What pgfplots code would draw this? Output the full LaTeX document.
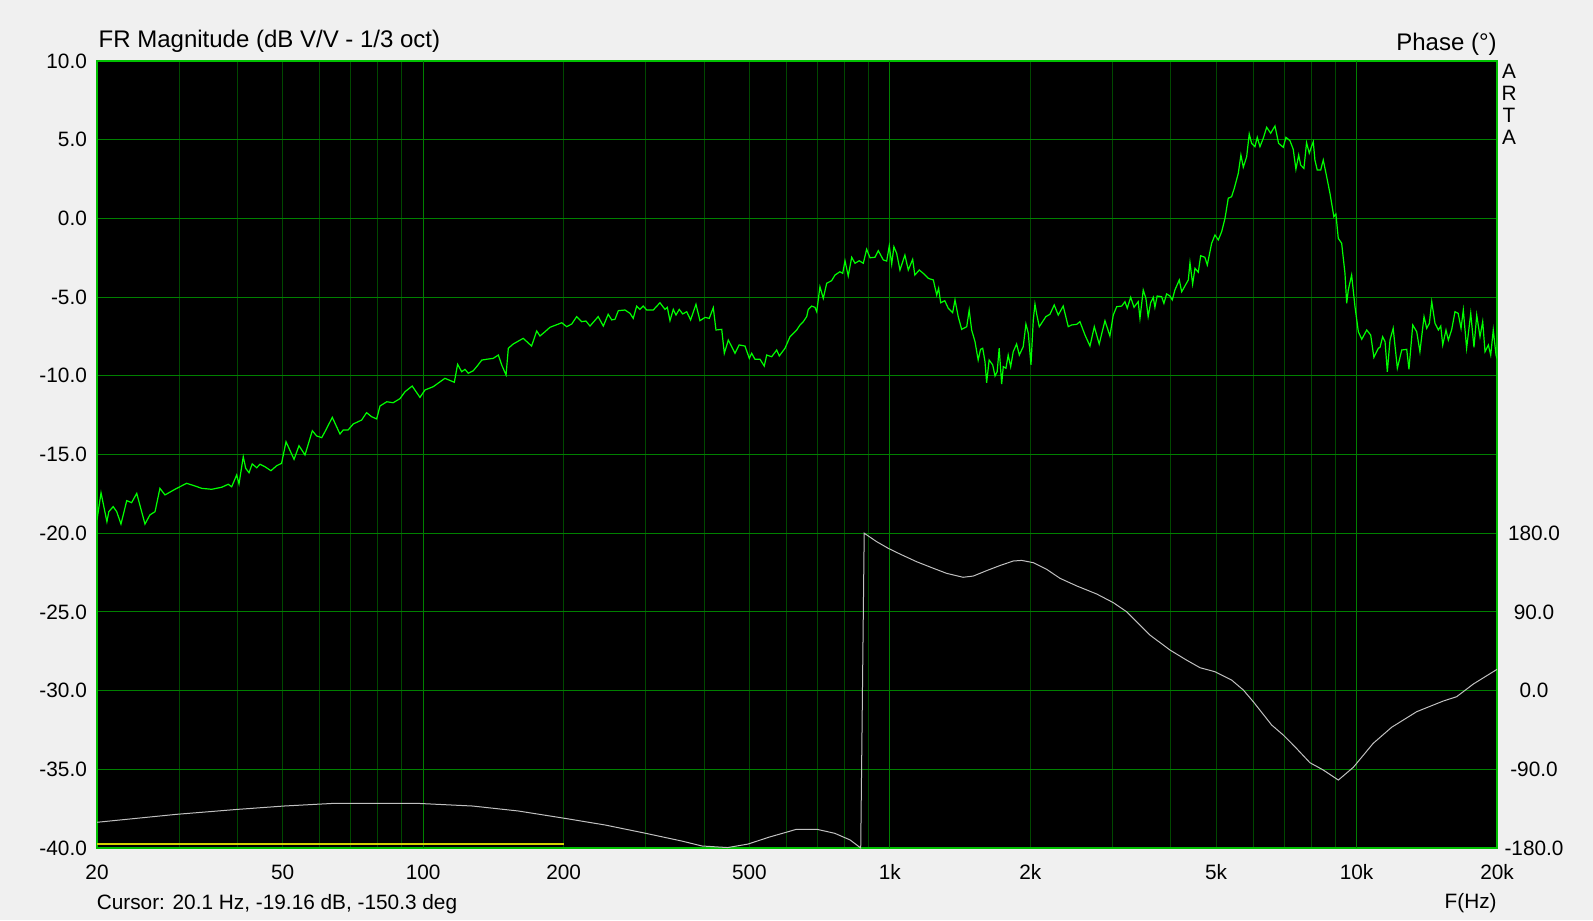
\documentclass[border=0pt]{standalone}
\usepackage{pgfplots}
\pgfplotsset{compat=1.18}
\usepackage{fontspec}
\setmainfont{Liberation Sans}
\definecolor{bgcol}{RGB}{240,240,240}
\definecolor{gridbright}{RGB}{0,128,0}
\definecolor{griddark}{RGB}{0,72,0}
\definecolor{bordercol}{RGB}{0,192,0}
\definecolor{curvecol}{RGB}{0,255,0}
\definecolor{phasecol}{RGB}{192,192,192}
\definecolor{cursorcol}{RGB}{210,210,0}
\newcommand{\lbl}{\fontsize{10.4}{12.5}\selectfont}
\newcommand{\ttl}{\fontsize{12}{14}\selectfont}
\begin{document}
\begin{tikzpicture}
\fill[bgcol] (-48.5pt,-36pt) rectangle (748pt,424pt);
\useasboundingbox (-48.5pt,-36pt) rectangle (748pt,424pt);
\begin{axis}[
  at={(0pt,0pt)}, anchor=south west,
  scale only axis, width=700pt, height=393.5pt,
  xmode=log, xmin=20, xmax=20000, ymin=-40, ymax=10,
  axis background/.style={fill=black},
  axis line style={draw=bordercol, line width=0.6pt},
  xtick={20,50,100,200,500,1000,2000,5000,10000,20000},
  xticklabels={20,50,100,200,500,1k,2k,5k,10k,20k},
  minor xtick={30,40,50,60,70,80,90,200,300,400,500,600,700,800,900,2000,3000,4000,5000,6000,7000,8000,9000},
  extra x ticks={100,1000,10000},
  extra x tick labels={},
  extra x tick style={grid=major},
  ytick={-40,-35,...,10},
  yticklabels={-40.0,-35.0,-30.0,-25.0,-20.0,-15.0,-10.0,-5.0,0.0,5.0,10.0},
  xmajorgrids=false, ymajorgrids=true, xminorgrids=true,
  major grid style={draw=gridbright, line width=0.5pt},
  minor grid style={draw=griddark, line width=0.5pt},
  major tick length=0pt, minor tick length=0pt,
  tick style={draw=none},
  ticklabel style={font=\lbl, text=black, inner sep=0pt},
  xticklabel style={anchor=base, yshift=-15.5pt},
  yticklabel style={anchor=east, xshift=-4.85pt},
]
\addplot[cursorcol, line width=1.1pt] coordinates {(20,-39.77) (200,-39.77)};
\addplot[curvecol, line width=0.6pt] table {
f db
20 -19.16
20.4 -17.43
21.0 -19.27
21.2 -18.63
21.66 -18.31
22.04 -18.63
22.51 -19.42
23.16 -17.93
23.72 -18.06
24.33 -17.47
25.34 -19.42
25.96 -18.84
26.63 -18.63
27.28 -17.15
27.97 -17.57
29.38 -17.21
31.12 -16.83
32.43 -17.0
33.53 -17.15
35.22 -17.21
37.0 -17.08
38.23 -16.89
38.87 -17.05
39.85 -16.30
40.30 -16.87
41.15 -15.14
41.66 -15.88
42.34 -16.16
43.01 -15.60
43.98 -15.84
44.69 -15.62
45.82 -15.78
47.17 -16.03
48.54 -15.71
49.72 -15.56
50.82 -14.19
52.87 -15.31
54.18 -14.44
55.81 -15.03
57.86 -13.49
59.11 -13.82
60.61 -13.93
61.59 -13.55
63.86 -12.64
66.33 -13.70
67.41 -13.44
69.05 -13.44
70.82 -13.06
73.82 -12.81
75.62 -12.34
77.55 -12.60
79.50 -12.74
80.80 -11.92
83.53 -11.65
86.24 -11.71
89.17 -11.45
91.42 -11.01
94.71 -10.65
98.40 -11.37
100.9 -10.90
105.1 -10.69
111.3 -10.16
116.6 -10.41
118.5 -9.27
120.9 -9.74
122.9 -9.59
124.9 -9.84
128.0 -9.68
131.1 -9.31
133.5 -9.0
136.7 -8.95
141.3 -8.89
144.9 -8.68
147.3 -9.31
150.5 -9.95
152.2 -8.25
155.9 -7.98
163.8 -7.62
170.7 -8.11
175.1 -7.15
177.9 -7.47
182.4 -7.20
186.9 -6.92
198.1 -6.63
203.0 -6.88
208.1 -6.71
213.2 -6.24
218.6 -6.56
223.2 -6.52
227.7 -6.84
237.1 -6.24
243.2 -6.84
249.1 -6.09
253.5 -6.45
257.6 -6.41
261.9 -5.86
270.6 -5.82
277.4 -6.03
281.9 -6.35
286.7 -5.57
291.4 -5.78
296.1 -5.57
301.3 -5.82
311.1 -5.82
321.6 -5.36
329.7 -5.78
333.5 -5.65
337.9 -6.50
343.5 -5.78
348.1 -6.14
353.7 -5.78
359.8 -6.07
367.0 -5.93
374.1 -6.45
384.2 -5.46
391.8 -6.50
401.6 -6.29
410.2 -6.35
418.4 -5.67
424.0 -7.09
436.2 -7.05
441.8 -8.57
450.6 -7.73
458.2 -8.15
465.7 -8.57
475.4 -8.04
489.2 -8.11
499.8 -8.89
505.7 -8.57
513.9 -8.95
526.9 -8.95
538.0 -9.38
544.6 -8.68
558.1 -8.79
572.1 -8.36
579.5 -8.74
596.0 -8.25
610.9 -7.52
631.5 -7.09
641.8 -6.77
652.3 -6.56
663.4 -6.24
668.6 -5.78
679.7 -5.57
691.1 -5.65
697.0 -5.93
708.2 -4.34
720.0 -5.08
732.2 -4.12
750.1 -3.96
762.8 -3.60
781.5 -3.39
792.4 -3.49
801.4 -2.69
814.3 -3.66
828.3 -2.47
841.9 -2.85
859.5 -2.69
877.1 -2.85
891.7 -1.96
906.6 -2.50
929.1 -2.47
944.5 -2.05
968.0 -2.64
984.4 -2.71
997.0 -1.75
1009 -2.90
1020 -1.80
1034 -2.22
1051 -3.28
1077 -2.33
1095 -3.28
1119 -2.60
1131 -3.60
1156 -3.28
1179 -3.49
1209 -3.81
1239 -3.91
1260 -4.87
1272 -4.44
1285 -5.36
1311 -5.23
1334 -5.71
1363 -5.99
1379 -5.18
1401 -6.24
1425 -7.05
1461 -6.88
1479 -5.82
1497 -7.09
1522 -7.83
1546 -9.0
1564 -8.32
1581 -8.25
1599 -9.10
1612 -10.44
1632 -9.0
1661 -9.31
1680 -10.01
1698 -9.74
1715 -8.25
1736 -10.52
1750 -9.42
1773 -9.52
1793 -8.68
1815 -9.42
1838 -8.47
1869 -7.98
1894 -8.68
1931 -8.15
1957 -6.71
1980 -7.30
2006 -9.31
2029 -6.45
2046 -5.44
2063 -6.07
2090 -6.88
2159 -6.24
2203 -6.09
2250 -5.50
2295 -6.14
2352 -5.57
2411 -6.88
2452 -6.77
2514 -6.73
2554 -6.56
2619 -7.41
2684 -8.11
2742 -6.88
2809 -7.98
2890 -6.50
2961 -7.47
3011 -6.14
3062 -5.61
3138 -5.57
3190 -5.29
3226 -5.71
3281 -5.01
3335 -5.65
3405 -5.29
3435 -6.35
3491 -4.55
3537 -5.08
3577 -6.24
3621 -5.36
3668 -5.01
3698 -5.65
3739 -4.93
3823 -4.97
3866 -5.40
3918 -4.80
3983 -4.93
4028 -5.18
4081 -4.55
4170 -3.91
4220 -4.66
4360 -3.91
4396 -2.81
4454 -4.17
4506 -3.17
4580 -3.42
4634 -2.37
4731 -2.47
4788 -2.96
4892 -1.58
4973 -1.05
5055 -1.37
5139 -0.85
5225 0.00
5310 1.28
5398 1.38
5470 1.91
5579 2.86
5652 4.03
5719 3.25
5815 3.92
5889 5.36
5960 4.77
6058 4.56
6127 5.15
6209 4.56
6312 5.09
6418 5.79
6546 5.41
6686 5.87
6807 4.77
6966 4.52
7058 5.15
7200 4.94
7318 4.39
7415 3.12
7516 4.03
7591 3.39
7714 3.18
7815 4.81
7920 4.14
8014 4.60
8077 4.87
8143 3.71
8238 3.07
8378 3.07
8485 3.71
8629 2.65
8771 1.59
8941 0.11
9031 0.28
9138 -1.27
9291 -1.58
9445 -3.49
9525 -5.40
9600 -4.55
9760 -3.60
9923 -5.61
10089 -7.20
10260 -7.68
10516 -7.09
10722 -7.41
10893 -8.83
11134 -8.25
11227 -8.19
11373 -7.52
11510 -7.83
11640 -9.74
11794 -7.73
11981 -6.98
12229 -9.52
12498 -8.36
12808 -8.32
12951 -9.59
13196 -6.77
13456 -7.20
13671 -8.47
13951 -6.24
14135 -6.98
14321 -6.67
14492 -5.29
14727 -6.67
14972 -7.09
15151 -6.84
15300 -8.04
15547 -7.09
15729 -7.73
15995 -7.05
16253 -5.93
16511 -6.03
16746 -6.98
16935 -5.82
17213 -8.25
17567 -6.03
17850 -8.19
18095 -6.14
18391 -7.52
18634 -6.56
18851 -8.47
19162 -8.04
19387 -8.68
19632 -7.09
19904 -8.68
20000 -8.9
};
\end{axis}
\begin{axis}[
  at={(0pt,0pt)}, anchor=south west,
  scale only axis, width=700pt, height=393.5pt,
  xmode=log, xmin=20, xmax=20000, ymin=-180, ymax=720,
  axis x line=none, axis y line*=right,
  axis line style={draw=none},
  ytick={-180,-90,0,90,180},
  yticklabels={-180.0,-90.0,0.0,90.0,180.0},
  major tick length=0pt, minor tick length=0pt, tick style={draw=none},
  ticklabel style={font=\lbl, text=black, inner sep=0pt},
  yticklabel style={anchor=center, xshift=18.5pt},
]
\addplot[phasecol, line width=0.5pt] table {
f ph
20 -150.6
29.6 -141.5
40.1 -135.8
50.3 -132
64.6 -128.9
96.7 -128.9
127.6 -132
160 -137.7
200.7 -146
245.4 -153.7
299.8 -163.2
357.9 -172
395.8 -177.7
449.1 -179.5
496.6 -175.5
549.4 -167.8
630.9 -158.6
697.6 -158.6
762.1 -163.2
821.8 -170.8
866 -180
881 180
937 170.3
992 162.7
1051 156.2
1141 147.4
1239 139.9
1323 134.1
1435 129.6
1509 131
1612 137.2
1721 143
1838 148.2
1916 148.9
2029 146.3
2166 138.8
2315 128.4
2514 119.7
2774 110.5
3011 100.6
3216 90.2
3609 63.5
3983 46.4
4322 34.9
4618 26.2
4973 21.6
5398 12.1
5719 0.7
6008 -12.7
6579 -39.4
6966 -50.8
7379 -64.2
7947 -82.5
8485 -90.8
9141 -102.3
9843 -87.7
10856 -60.3
11893 -41.9
13456 -24.1
15345 -11.9
16385 -7
17790 7.5
20000 24.3
};
\end{axis}
\node[font=\ttl, anchor=base west, inner sep=0pt] at (0.65pt,400pt) {FR Magnitude (dB V/V - 1/3 oct)};
\node[font=\ttl, anchor=base east, inner sep=0pt] at (700pt,398.7pt) {Phase (°)};
\node[font=\lbl, anchor=base, inner sep=0pt] at (706pt,384.85pt) {A};
\node[font=\lbl, anchor=base, inner sep=0pt] at (706pt,373.5pt) {R};
\node[font=\lbl, anchor=base, inner sep=0pt] at (706pt,362.65pt) {T};
\node[font=\lbl, anchor=base, inner sep=0pt] at (706pt,351.5pt) {A};
\node[font=\lbl, anchor=base west, inner sep=0pt] at (-0.3pt,-30.5pt) {Cursor: 20.1 Hz, -19.16 dB, -150.3 deg};
\node[font=\lbl, anchor=base east, inner sep=0pt] at (700pt,-30.2pt) {F(Hz)};
\end{tikzpicture}
\end{document}
